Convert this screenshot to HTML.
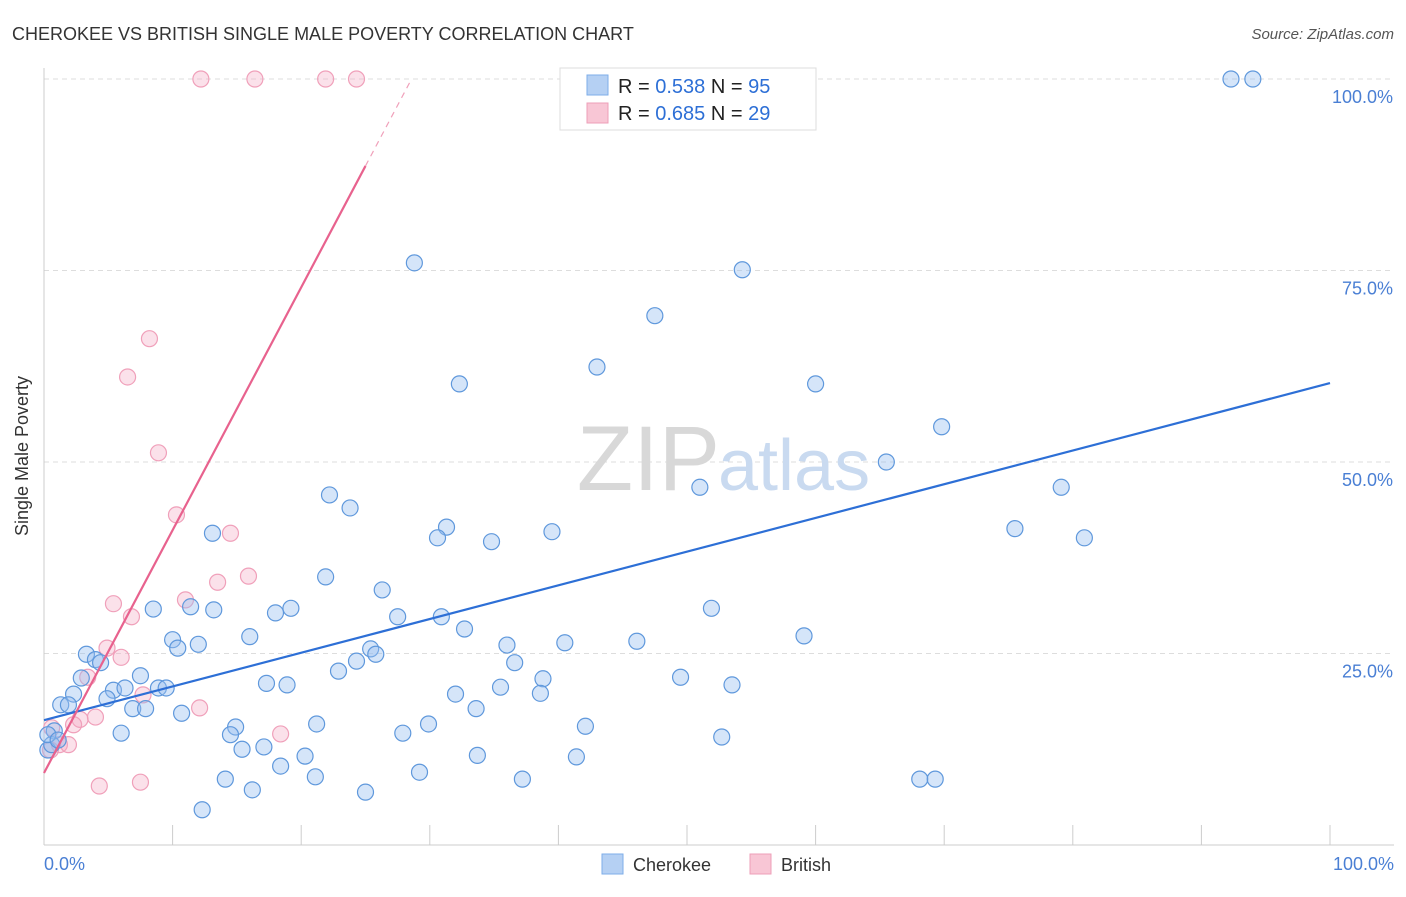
<!DOCTYPE html>
<html><head><meta charset="utf-8">
<style>
body{margin:0;background:#fff;font-family:"Liberation Sans",sans-serif;}
svg text{font-family:"Liberation Sans",sans-serif;}
</style></head>
<body>
<svg id="chart" width="1406" height="892" xmlns="http://www.w3.org/2000/svg">
<text x="12" y="40" font-size="18" fill="#333">CHEROKEE VS BRITISH SINGLE MALE POVERTY CORRELATION CHART</text>
<text x="1394" y="39" font-size="15" fill="#555" text-anchor="end" font-style="italic">Source: ZipAtlas.com</text>
<g id="grid"></g>
<text x="720" y="490" font-size="92" fill="#d8d8d8" text-anchor="end" font-family="Liberation Serif">ZIP</text>
<text x="718" y="490" font-size="72" fill="#c9daf0">atlas</text>
<g id="axes"></g>
<g id="pts"></g>
<g id="lines"></g>
<text x="28" y="456" font-size="18" fill="#333" text-anchor="middle" transform="rotate(-90 28 456)">Single Male Poverty</text>
<text x="44" y="870" font-size="18" fill="#4a7fd4">0.0%</text>
<text x="1394" y="870" font-size="18" fill="#4a7fd4" text-anchor="end">100.0%</text>
<g>
<rect x="560" y="68" width="256" height="62" fill="#fff" stroke="#ddd"/>
<rect x="587" y="75" width="21" height="20" fill="#b5d0f3" stroke="#7eaee8"/>
<rect x="587" y="103" width="21" height="20" fill="#f8c6d5" stroke="#ee9fb8"/>
<text x="618" y="93" font-size="20" fill="#222">R = <tspan fill="#2d6fd6">0.538</tspan>   N = <tspan fill="#2d6fd6">95</tspan></text>
<text x="618" y="120" font-size="20" fill="#222">R = <tspan fill="#2d6fd6">0.685</tspan>   N = <tspan fill="#2d6fd6">29</tspan></text>
</g>
<g>
<rect x="602" y="854" width="21" height="20" fill="#b5d0f3" stroke="#7eaee8"/>
<text x="633" y="871" font-size="18" fill="#333">Cherokee</text>
<rect x="750" y="854" width="21" height="20" fill="#f8c6d5" stroke="#ee9fb8"/>
<text x="781" y="871" font-size="18" fill="#333">British</text>
</g>
</svg>
<script>
const yTicks=[25,50,75,100];
const yTickLabels=["25.0%","50.0%","75.0%","100.0%"];
const xTicks=[0,10,20,30,40,50,60,70,80,90,100];
const cherokeeX=[28.8,54.3,47.5,43.0,32.3,60.0,69.8,65.5,51.0,79.1,22.2,23.8,31.3,30.6,39.5,34.8,75.5,80.9,13.1,21.9,26.3,8.5,11.4,13.2,19.2,18.0,27.5,30.9,51.9,32.7,16.0,10.0,10.4,12.0,36.0,40.5,46.1,59.1,25.4,25.8,3.3,4.0,4.4,24.3,36.6,22.9,7.5,2.9,18.9,17.3,38.8,49.5,53.5,2.3,5.4,6.3,8.9,9.5,35.5,38.6,32.0,4.9,1.3,1.9,6.9,7.9,10.7,33.6,21.2,14.9,29.9,42.1,0.8,6.0,14.5,27.9,52.7,15.4,17.1,20.3,33.7,41.4,18.4,21.1,29.2,14.1,16.2,25.0,37.2,68.1,69.3,12.3,92.3,94.0,0.3,0.6,0.3,1.1];
const cherokeeY=[76.0,75.1,69.1,62.4,60.2,60.2,54.6,50.0,46.7,46.7,45.7,44.0,41.5,40.1,40.9,39.6,41.3,40.1,40.7,35.0,33.3,30.8,31.1,30.7,30.9,30.3,29.8,29.8,30.9,28.2,27.2,26.8,25.7,26.2,26.1,26.4,26.6,27.3,25.6,24.9,24.9,24.2,23.8,24.0,23.8,22.7,22.1,21.8,20.9,21.1,21.7,21.9,20.9,19.7,20.2,20.5,20.5,20.5,20.6,19.8,19.7,19.1,18.3,18.3,17.8,17.8,17.2,17.8,15.8,15.4,15.8,15.5,14.9,14.6,14.4,14.6,14.1,12.5,12.8,11.6,11.7,11.5,10.3,8.9,9.5,8.6,7.2,6.9,8.6,8.6,8.6,4.6,100,100,12.4,13.1,14.4,13.7];
const britishX=[12.2,16.4,21.9,24.3,8.2,6.5,8.9,10.3,14.5,15.9,13.5,11.0,5.4,6.8,4.9,6.0,3.4,7.7,12.1,4.0,2.8,2.3,18.4,0.6,1.2,1.9,0.5,4.3,7.5];
const britishY=[100,100,100,100,66.1,61.1,51.2,43.1,40.7,35.1,34.3,32.0,31.5,29.8,25.7,24.5,21.9,19.6,17.9,16.7,16.4,15.7,14.5,15.3,13.1,13.1,12.4,7.7,8.2];
const cherokeeTrend=[16.3,60.3];
const britishTrend=[9.4,3.17];
const NS="http://www.w3.org/2000/svg";
const X=v=>44+v*12.86, Y=v=>845-v*7.66;
function mk(tag,attrs,parent){const e=document.createElementNS(NS,tag);for(const k in attrs)e.setAttribute(k,attrs[k]);parent.appendChild(e);return e;}
const grid=document.getElementById('grid'),axes=document.getElementById('axes'),pts=document.getElementById('pts'),lines=document.getElementById('lines');
yTicks.forEach((t,i)=>{
 const l=mk('line',{x1:44,x2:1394,y1:Y(t),y2:Y(t),stroke:'#ddd','stroke-dasharray':'5,4'},grid);
 
 
 const tx=mk('text',{x:1393,y:Y(t)+24,'font-size':18,fill:'#4a7fd4','text-anchor':'end'},axes);
 tx.textContent=yTickLabels[i];
 
 
});
const ax=mk('line',{x1:44,x2:1394,y1:845,y2:845,stroke:'#ccc'},axes);


const ay=mk('line',{x1:44,x2:44,y1:68,y2:845,stroke:'#ccc'},axes);


xTicks.forEach(t=>{
 const l=mk('line',{x1:X(t),x2:X(t),y1:825,y2:845,stroke:'#ccc'},axes);
 
 
});
britishX.forEach((v,i)=>{
 const c=mk('circle',{cx:X(v),cy:Y(britishY[i]),r:8,fill:'rgba(244,170,195,0.35)',stroke:'#f0a0ba','stroke-width':1.2},pts);
 
 
});
cherokeeX.forEach((v,i)=>{
 const c=mk('circle',{cx:X(v),cy:Y(cherokeeY[i]),r:8,fill:'rgba(150,190,240,0.4)',stroke:'#5f98dc','stroke-width':1.2},pts);
 
 
});
const bl=mk('line',{x1:X(0),y1:Y(cherokeeTrend[0]),x2:X(100),y2:Y(cherokeeTrend[1]),stroke:'#2d6fd6','stroke-width':2.2},lines);


const xEnd=25,xMax=(100-britishTrend[0])/britishTrend[1];
const pl=mk('line',{x1:X(0),y1:Y(britishTrend[0]),x2:X(xEnd),y2:Y(britishTrend[0]+britishTrend[1]*xEnd),stroke:'#e8628e','stroke-width':2.2},lines);


const pd=mk('line',{x1:X(xEnd),y1:Y(britishTrend[0]+britishTrend[1]*xEnd),x2:X(xMax),y2:Y(100),stroke:'#f0a0ba','stroke-width':1.2,'stroke-dasharray':'6,5'},lines);


</script>
</body></html>
